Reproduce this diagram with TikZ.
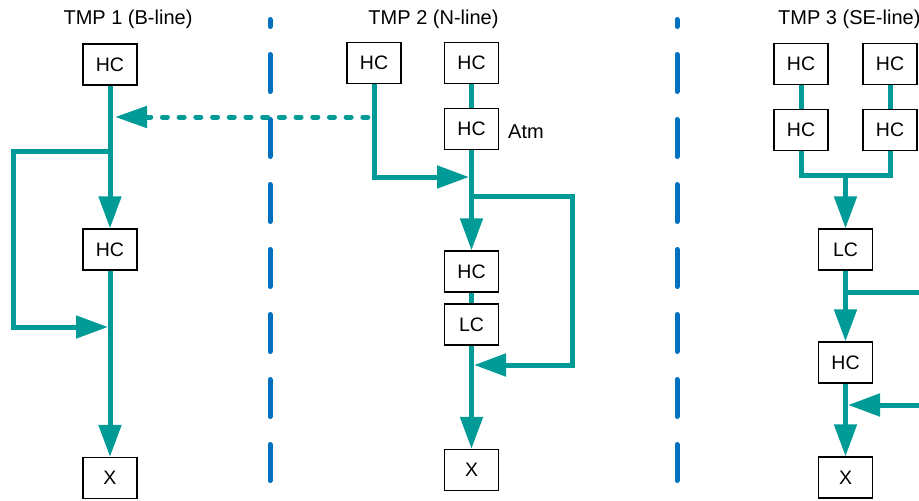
\documentclass[tikz,border=0pt]{standalone}
\usepackage{fontspec}
\setmainfont{Liberation Sans}
\usetikzlibrary{arrows.meta}
\definecolor{flowteal}{RGB}{0,155,150}
\definecolor{sepblue}{RGB}{0,112,192}
\begin{document}
\begin{tikzpicture}[x=1pt,y=-1pt,
  box/.style={draw=black,line width=1.3pt,minimum width=54pt,minimum height=41pt,inner sep=0pt,font=\fontsize{19.5}{21}\selectfont},
  title/.style={font=\fontsize{20}{22}\selectfont,inner sep=0pt},
  flow/.style={draw=flowteal,line width=5pt},
  arr/.style={flow,-{Triangle[length=32pt,width=22pt]}},
  sep/.style={draw=sepblue,line width=5pt,line cap=round,dash pattern=on 37pt off 28pt,dash phase=30pt},
  dots/.style={draw=flowteal,line width=5pt,line cap=round,dash pattern=on 5pt off 11.7pt}]
\useasboundingbox (0,0) rectangle (919,501);

% titles
\node[title,anchor=base] (t1) at (128,24) {TMP 1 (B-line)};
\node[title,anchor=base] (t2) at (433.5,24) {TMP 2 (N-line)};
\node[title,anchor=base west] (t3) at (778,24) {TMP 3 (SE-line)};

% separators
\coordinate (s1t) at (270,19.5);
\coordinate (s1b) at (270,480.5);
\coordinate (s2t) at (677,19.5);
\coordinate (s2b) at (677,480.5);
\draw[sep] (s1t) -- (s1b);
\draw[sep] (s2t) -- (s2b);

% TMP 1
\node[box] (a1) at (110,64.5) {HC};
\node[box] (a2) at (110,249.5) {HC};
\node[box] (a3) at (110,478) {X};
\coordinate (a1j) at (110,151);
\coordinate (a1l) at (13,151);
\coordinate (a1m) at (13,327);
\coordinate (a2in) at (108,327);
\draw[flow] (a1.south) -- (a1j);
\draw[arr] (a1j) -- (a2.north);
\draw[arr] (a1j) -- (a1l) -- (a1m) -- (a2in);
\draw[arr] (a2) -- (a3);

% TMP 2
\node[box] (b1) at (374,63) {HC};
\node[box] (b2) at (471.5,63) {HC};
\node[box] (b3) at (471.5,129) {HC};
\node[anchor=base west,font=\fontsize{20}{22}\selectfont,inner sep=0pt] (atm) at (508,138) {Atm};
\node[box] (b4) at (471.5,271.5) {HC};
\node[box] (b5) at (471.5,324.5) {LC};
\node[box] (b6) at (471.5,470) {X};
\coordinate (b1k) at (374,177);
\coordinate (b3m) at (469,177);
\coordinate (b3j) at (471.5,196);
\coordinate (b3r) at (572,196);
\coordinate (b5r) at (572,365);
\coordinate (b5j) at (474,365);
\coordinate (d0) at (376,117);
\coordinate (d1) at (115,117);
\draw[flow] (b2) -- (b3);
\draw[arr] (b1.south) -- (b1k) -- (b3m);
\draw[arr] (b3j) -- (b3r) -- (b5r) -- (b5j);
\draw[arr] (b3) -- (b4);
\draw[flow] (b4) -- (b5);
\draw[arr] (b5) -- (b6);
\draw[dots,{Triangle[length=32pt,width=21pt]}-] (d1) -- (d0);

% TMP 3
\node[box] (c1) at (801,64) {HC};
\node[box] (c2) at (890,64) {HC};
\node[box] (c3) at (801,130) {HC};
\node[box] (c4) at (890,130) {HC};
\node[box] (c5) at (845.5,249.5) {LC};
\node[box] (c6) at (845.5,362.5) {HC};
\node[box] (c7) at (845.5,477.5) {X};
\coordinate (c3b) at (801,175);
\coordinate (c4b) at (890,175);
\coordinate (cj) at (845.5,175);
\coordinate (c5j) at (845.5,292);
\coordinate (c5r) at (925,292);
\coordinate (c6j) at (848,405);
\coordinate (c6r) at (925,405);
\draw[flow] (c1) -- (c3);
\draw[flow] (c2) -- (c4);
\draw[flow] (c3.south) -- (c3b) -- (c4b) -- (c4.south);
\draw[arr] (cj) -- (c5);
\draw[flow] (c5j) -- (c5r);
\draw[arr] (c5) -- (c6);
\draw[arr] (c6r) -- (c6j);
\draw[arr] (c6) -- (c7);
\end{tikzpicture}
\end{document}
